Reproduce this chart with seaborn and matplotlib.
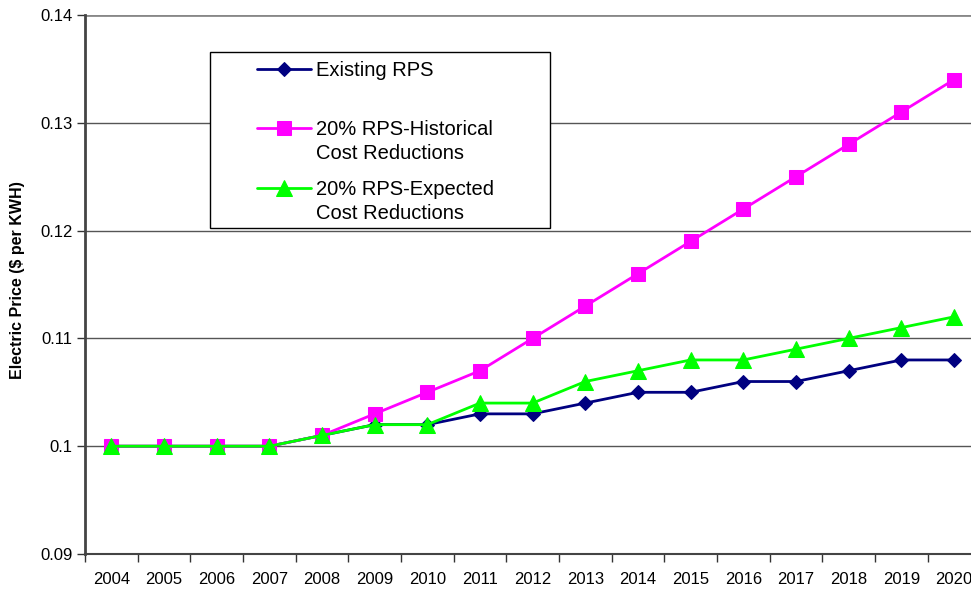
import numpy as np
import pandas as pd
import matplotlib
matplotlib.use("Agg")
import matplotlib.pyplot as plt
import seaborn as sns
from matplotlib.patches import Rectangle

# --------------------------------------------------------------------
# data
# --------------------------------------------------------------------
years = ["2004", "2005", "2006", "2007", "2008", "2009", "2010", "2011", "2012",
         "2013", "2014", "2015", "2016", "2017", "2018", "2019", "2020"]
existing_rps = [0.100, 0.100, 0.100, 0.100, 0.101, 0.102, 0.102, 0.103, 0.103,
                0.104, 0.105, 0.105, 0.106, 0.106, 0.107, 0.108, 0.108]
rps_historical = [0.100, 0.100, 0.100, 0.100, 0.101, 0.103, 0.105, 0.107, 0.110,
                  0.113, 0.116, 0.119, 0.122, 0.125, 0.128, 0.131, 0.134]
rps_expected = [0.100, 0.100, 0.100, 0.100, 0.101, 0.102, 0.102, 0.104, 0.104,
                0.106, 0.107, 0.108, 0.108, 0.109, 0.110, 0.111, 0.112]

series_names = ["Existing RPS", "20% RPS-Historical", "20% RPS-Expected"]
y_ticks = [0.09, 0.10, 0.11, 0.12, 0.13, 0.14]
y_tick_labels = ["0.09", "0.1", "0.11", "0.12", "0.13", "0.14"]

df = pd.DataFrame({"pos": np.arange(len(years))})
df[series_names[0]] = existing_rps
df[series_names[1]] = rps_historical
df[series_names[2]] = rps_expected

# --------------------------------------------------------------------
# style
# --------------------------------------------------------------------
sns.set_theme(style="white")
plt.rcParams["font.family"] = ["Liberation Sans", "DejaVu Sans"]
plt.rcParams["text.color"] = "black"
plt.rcParams["xtick.color"] = "black"
plt.rcParams["ytick.color"] = "black"
plt.rcParams["axes.labelcolor"] = "black"

fig = plt.figure(figsize=(9.71, 5.90), dpi=100)
ax = fig.add_axes([85 / 971, 1 - 554 / 590, 895.3 / 971, 539 / 590])

styles = [
    dict(color="#000080", marker="D", markersize=7.5),
    dict(color="#FF00FF", marker="s", markersize=10.5),
    dict(color="#00FF00", marker="^", markersize=11),
]
handles = []
for name, st in zip(series_names, styles):
    sns.lineplot(data=df, x="pos", y=name, ax=ax, color=st["color"], lw=2,
                 marker=st["marker"], markersize=st["markersize"],
                 markeredgecolor=st["color"], label=name, zorder=3)
    handles.append(ax.get_lines()[-1])

ax.set_xlim(-0.5, len(years) - 0.5)
ax.set_ylim(0.09, 0.14)

# x ticks: marks between categories, labels at centers
ax.set_xticks(np.arange(len(years) + 1) - 0.5)
ax.set_xticklabels([])
ax.set_xticks(np.arange(len(years)), minor=True)
ax.set_xticklabels(years, minor=True, fontsize=12)
ax.tick_params(axis="x", which="major", direction="out", length=6, width=1,
               color="#333333", bottom=True)
ax.tick_params(axis="x", which="minor", length=0, pad=13)

ax.set_yticks(y_ticks)
ax.set_yticklabels(y_tick_labels, fontsize=12)
ax.tick_params(axis="y", direction="out", length=6, width=1, color="#333333",
               left=True, pad=3)

ax.grid(False)
for v in y_ticks[1:-1]:
    ax.axhline(v, color="#555555", lw=1, zorder=1)
ax.axhline(0.14, color="#888888", lw=2, zorder=1)

for s in ["top", "right"]:
    ax.spines[s].set_visible(False)
ax.spines["left"].set_color("#444444")
ax.spines["left"].set_linewidth(2)
ax.spines["bottom"].set_color("#444444")
ax.spines["bottom"].set_linewidth(1.5)

ax.set_xlabel("")
ax.set_ylabel("Electric Price ($ per KWH)", fontsize=11.5, fontweight="bold")
ax.yaxis.set_label_coords(18 / 971, (590 - 280) / 590, transform=fig.transFigure)
ax.yaxis.label.set_verticalalignment("center")

# legend box
ax.add_patch(Rectangle(((210 - 85) / 895.3, (554 - 228) / 539),
                       340 / 895.3, 176 / 539, transform=ax.transAxes,
                       facecolor="white", edgecolor="black", lw=1, zorder=4))
leg = ax.legend(handles=handles, labels=series_names, loc="upper left",
                bbox_to_anchor=((257 - 85) / 895.3, (554 - 61) / 539),
                frameon=False, fontsize=14.5, handlelength=2.7,
                handletextpad=0.25, labelspacing=2.0, borderpad=0,
                borderaxespad=0, numpoints=1)
leg.set_zorder(5)
for t in leg.get_texts()[1:]:
    ax.annotate("Cost Reductions", xy=(0, 0.5), xycoords=t, xytext=(0, -24),
                textcoords="offset pixels", va="center", ha="left",
                fontsize=14.5, zorder=6, annotation_clip=False)

plt.savefig("out.png", dpi=100)
